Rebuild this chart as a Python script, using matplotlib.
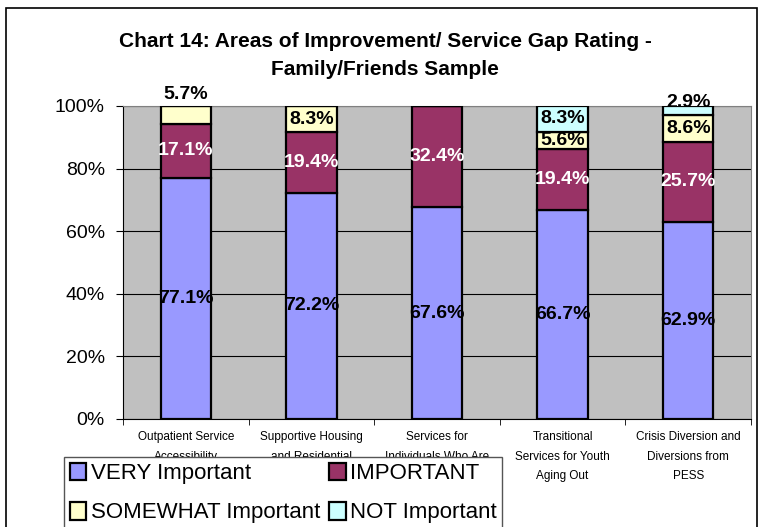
import numpy as np
import matplotlib
matplotlib.use('Agg')
import matplotlib.pyplot as plt
from matplotlib.patches import Rectangle

plt.rcParams['font.family'] = ['Liberation Sans', 'DejaVu Sans']

# data
categories = ['Outpatient Service\nAccessibility',
              'Supportive Housing\nand Residential',
              'Services for\nIndividuals Who Are',
              'Transitional\nServices for Youth\nAging Out',
              'Crisis Diversion and\nDiversions from\nPESS']
very = [77.1, 72.2, 67.6, 66.7, 62.9]
important = [17.1, 19.4, 32.4, 19.4, 25.7]
somewhat = [5.7, 8.3, 0.0, 5.6, 8.6]
not_imp = [0.0, 0.0, 0.0, 8.3, 2.9]
series_names = ['VERY Important', 'IMPORTANT', 'SOMEWHAT Important', 'NOT Important']

colors = ['#9999FF', '#993366', '#FFFFCC', '#CCFFFF']
label_colors = ['black', 'white', 'black', 'black']
# labels moved off-centre in the original (series index, category index) -> shift in %
nudges = {(2, 0): 6.6, (3, 4): 2.3}

fig = plt.figure(figsize=(7.64, 5.27), dpi=100)
ax = fig.add_axes([0.161, 0.205, 0.822, 0.594])
ax.set_facecolor('#C0C0C0')

x = np.arange(len(categories))
series = [very, important, somewhat, not_imp]
bottom = np.zeros(len(categories))
bars = []
for k, (vals, col, lc) in enumerate(zip(series, colors, label_colors)):
    vals = np.array(vals)
    b = ax.bar(x, vals, 0.4, bottom=bottom, color=col, edgecolor='black',
               linewidth=1.6, zorder=3)
    bars.append(b)
    for i, v in enumerate(vals):
        if v <= 0:
            continue
        y = bottom[i] + v / 2 + nudges.get((k, i), 0)
        ax.text(x[i], y, f'{v:.1f}%', ha='center', va='center', fontsize=14,
                fontweight='bold', color=lc, zorder=5)
    bottom += vals

ax.set_xlim(-0.5, len(categories) - 0.5)
ax.set_ylim(0, 100)
ax.set_yticks(np.arange(0, 101, 20))
ax.set_yticklabels([f'{t}%' for t in range(0, 101, 20)], fontsize=14)
ax.yaxis.grid(True, color='black', linewidth=0.8, zorder=1)
ax.set_axisbelow(True)
ax.set_xticks(x)
ax.set_xticklabels(categories, fontsize=8.5, linespacing=1.8)
ax.tick_params(axis='x', length=0, pad=9)
ax.set_xticks(np.arange(-0.5, len(categories), 1), minor=True)
ax.tick_params(axis='x', which='minor', length=4, direction='out', color='black')
ax.tick_params(axis='y', length=5, direction='out', pad=8)
for s in ['top', 'right']:
    ax.spines[s].set_color('#808080')
for s in ['left', 'bottom']:
    ax.spines[s].set_color('black')

fig.text(0.504, 1 - 56 / 527, 'Chart 14: Areas of Improvement/ Service Gap Rating -\nFamily/Friends Sample',
         ha='center', va='center', fontsize=15, fontweight='bold', linespacing=1.6)

handles = [bars[0], bars[2], bars[1], bars[3]]
labels = [series_names[0], series_names[2], series_names[1], series_names[3]]
leg = fig.legend(handles, labels, ncol=2, loc='upper left',
                 bbox_to_anchor=(64 / 764, 1 - 457 / 527), borderaxespad=0,
                 fontsize=16, frameon=True, fancybox=False, edgecolor='#555555',
                 framealpha=1, handlelength=0.75, handleheight=0.85,
                 handletextpad=0.2, columnspacing=0.4, borderpad=0.25,
                 labelspacing=0.8)
leg.get_frame().set_linewidth(1.0)
leg.set_zorder(10)

fig.patches.append(Rectangle((6 / 764, -0.1), 751 / 764, 1.1 - 8 / 527,
                             transform=fig.transFigure, fill=False,
                             edgecolor='black', linewidth=1.2))

fig.savefig('out.png', dpi=100)
